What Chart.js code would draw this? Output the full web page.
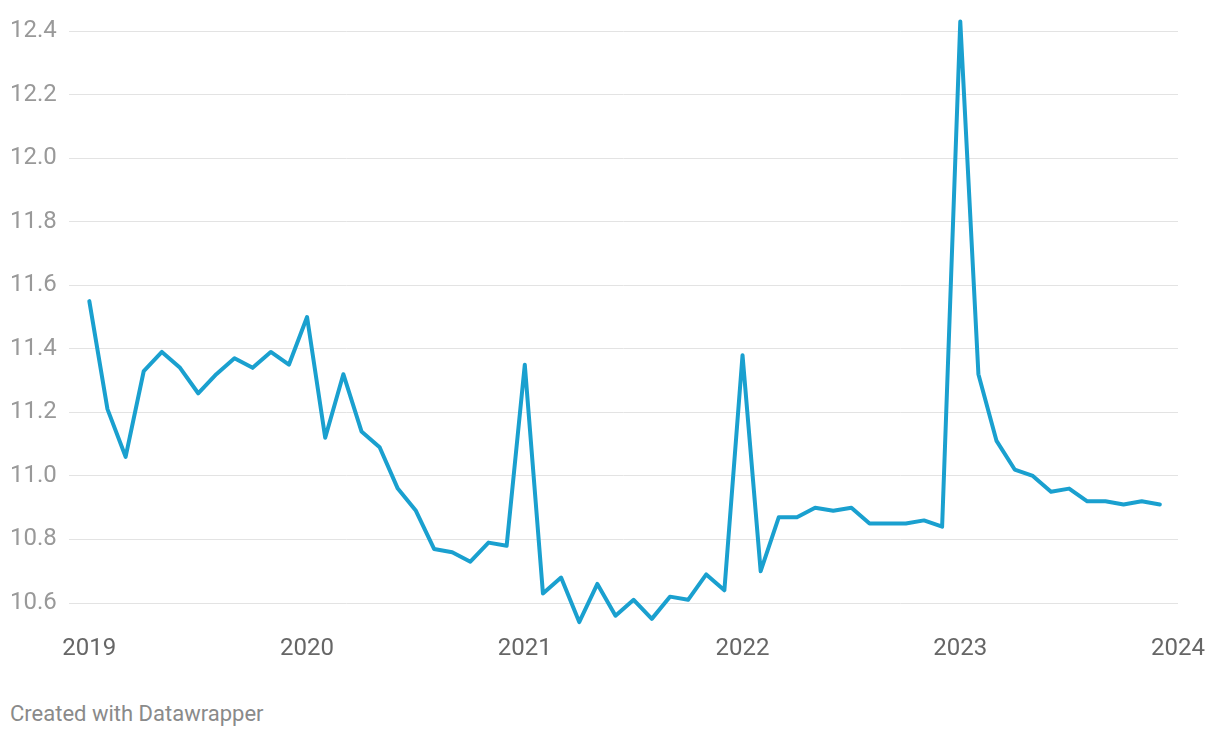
<!DOCTYPE html>
<html>
<head>
<meta charset="utf-8">
<script src="https://cdn.jsdelivr.net/npm/chart.js@4"></script>
<style>
  html, body { margin: 0; padding: 0; background: #fff; }
  #wrap { position: relative; width: 1220px; height: 680px; }
  .credit {
    position: absolute; left: 10px; top: 701px;
    font: 22px Roboto, sans-serif; color: #8a8a8a;
  }
</style>
</head>
<body>
<div id="wrap"><canvas id="chart"></canvas></div>
<div class="credit">Created with Datawrapper</div>
<script>
// ===== DATA =====
const yearLabels = ['2019', '2020', '2021', '2022', '2023', '2024'];
const yTicks = [10.6, 10.8, 11.0, 11.2, 11.4, 11.6, 11.8, 12.0, 12.2, 12.4];
// monthly values, Jan 2019 .. Dec 2023
const values2019 = [11.55, 11.21, 11.06, 11.33, 11.39, 11.34, 11.26, 11.32, 11.37, 11.34, 11.39, 11.35];
const values2020 = [11.50, 11.12, 11.32, 11.14, 11.09, 10.96, 10.89, 10.77, 10.76, 10.73, 10.79, 10.78];
const values2021 = [11.35, 10.63, 10.68, 10.54, 10.66, 10.56, 10.61, 10.55, 10.62, 10.61, 10.69, 10.64];
const values2022 = [11.38, 10.70, 10.87, 10.87, 10.90, 10.89, 10.90, 10.85, 10.85, 10.85, 10.86, 10.84];
const values2023 = [12.43, 11.32, 11.11, 11.02, 11.00, 10.95, 10.96, 10.92, 10.92, 10.91, 10.92, 10.91];

const allValues = [].concat(values2019, values2020, values2021, values2022, values2023);
const points = allValues.map((v, i) => ({ x: i, y: v }));

// ===== CHART =====
new Chart(document.getElementById('chart'), {
  type: 'line',
  data: {
    datasets: [{
      data: points,
      borderColor: '#1aa0cf',
      borderWidth: 4,
      borderJoinStyle: 'round',
      borderCapStyle: 'round',
      pointRadius: 0,
      tension: 0,
      clip: false,
    }]
  },
  options: {
    responsive: true,
    maintainAspectRatio: false,
    animation: false,
    layout: { padding: { left: 10, right: 42, top: 31, bottom: 0 } },
    plugins: { legend: { display: false }, tooltip: { enabled: false } },
    scales: {
      x: {
        type: 'linear',
        min: -1.12,
        max: 60,
        afterBuildTicks: (s) => { s.ticks = yearLabels.map((_, i) => ({ value: i * 12 })); },
        afterFit: (s) => { s.height = 77; s.paddingLeft = 0; s.paddingRight = 0; },
        grid: { display: false, drawTicks: false },
        border: { display: false },
        ticks: {
          padding: 32,
          maxRotation: 0,
          autoSkip: false,
          color: '#666',
          font: { family: 'Roboto', size: 24 },
          callback: (v) => yearLabels[Math.round(v / 12)],
        },
      },
      y: {
        min: 10.6,
        max: 12.4,
        afterBuildTicks: (s) => { s.ticks = yTicks.map(v => ({ value: v })); },
        afterFit: (s) => { s.width = 59; },
        grid: { color: '#e3e3e3', lineWidth: 1, drawTicks: false },
        border: { display: false },
        ticks: {
          crossAlign: 'far',
          padding: 10,
          color: '#999',
          font: { family: 'Roboto', size: 24 },
          callback: (v) => v.toFixed(1),
        },
      }
    }
  }
});
</script>
</body>
</html>
